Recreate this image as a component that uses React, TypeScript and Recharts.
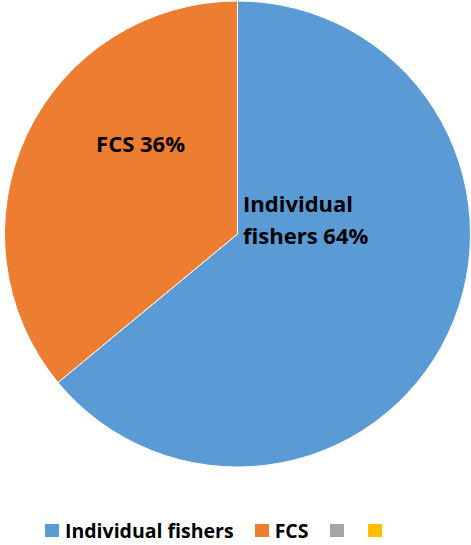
import { PieChart, Pie, Cell, Legend } from "recharts"

// ─── Data ────────────────────────────────────────────────────────────────────

const CATEGORIES = ["Individual fishers", "FCS", "", ""]
const SHARES = [64, 36, 0, 0]
const COLORS = ["#5B9BD5", "#ED7D31", "#A5A5A5", "#FFC000"]

const DATA = CATEGORIES.map((name, i) => ({ name, value: SHARES[i] }))

const FONT = "'Open Sans', sans-serif"

// ─── Labels ──────────────────────────────────────────────────────────────────

function SliceLabel(props: any) {
    const { cx, cy, outerRadius, index, name, value } = props
    if (!value) return null
    const style = { fontFamily: FONT, fontWeight: 700, fontSize: 22, fill: "#000" }
    if (index === 0) {
        // two-line label just right of the vertical split
        const x = cx + outerRadius * 0.024
        const y = cy - outerRadius * 0.094
        const words = name.split(" ")
        return (
            <text x={x} y={y} textAnchor="start" style={style}>
                <tspan x={x} dy={0}>{words[0]}</tspan>
                <tspan x={x} dy={32}>{`${words.slice(1).join(" ")} ${value}%`}</tspan>
            </text>
        )
    }
    const x = cx - outerRadius * 0.416
    const y = cy - outerRadius * 0.352
    return (
        <text x={x} y={y} textAnchor="middle" style={style}>
            {`${name} ${value}%`}
        </text>
    )
}

// ─── Legend ──────────────────────────────────────────────────────────────────

function ChartLegend() {
    return (
        <div style={{ display: "flex", alignItems: "center", fontFamily: FONT, fontWeight: 700, fontSize: 19.5, color: "#000" }}>
            {CATEGORIES.map((name, i) => (
                <div key={i} style={{ display: "flex", alignItems: "center", marginRight: name ? 21 : 24 }}>
                    <span style={{ width: 14, height: 13, background: COLORS[i], display: "inline-block", marginRight: name ? 6 : 0 }} />
                    {name && <span>{name}</span>}
                </div>
            ))}
        </div>
    )
}

export default function App() {
    return (
        <div style={{ width: 471, height: 545, background: "#fff" }}>
            <style>{`body{margin:0}`}</style>
            <PieChart width={471} height={545} margin={{ top: 0, right: 0, bottom: 0, left: 0 }}>
                <Pie
                    data={DATA}
                    dataKey="value"
                    nameKey="name"
                    cx={237.5}
                    cy={234}
                    outerRadius={233}
                    startAngle={90}
                    endAngle={-270}
                    stroke="#fff"
                    strokeWidth={1}
                    labelLine={false}
                    label={SliceLabel}
                    isAnimationActive={false}
                >
                    {DATA.map((d, i) => (
                        <Cell key={d.name + i} fill={COLORS[i]} />
                    ))}
                </Pie>
                <Legend content={<ChartLegend />} wrapperStyle={{ left: 45, top: 517, width: 426 }} />
            </PieChart>
        </div>
    )
}
